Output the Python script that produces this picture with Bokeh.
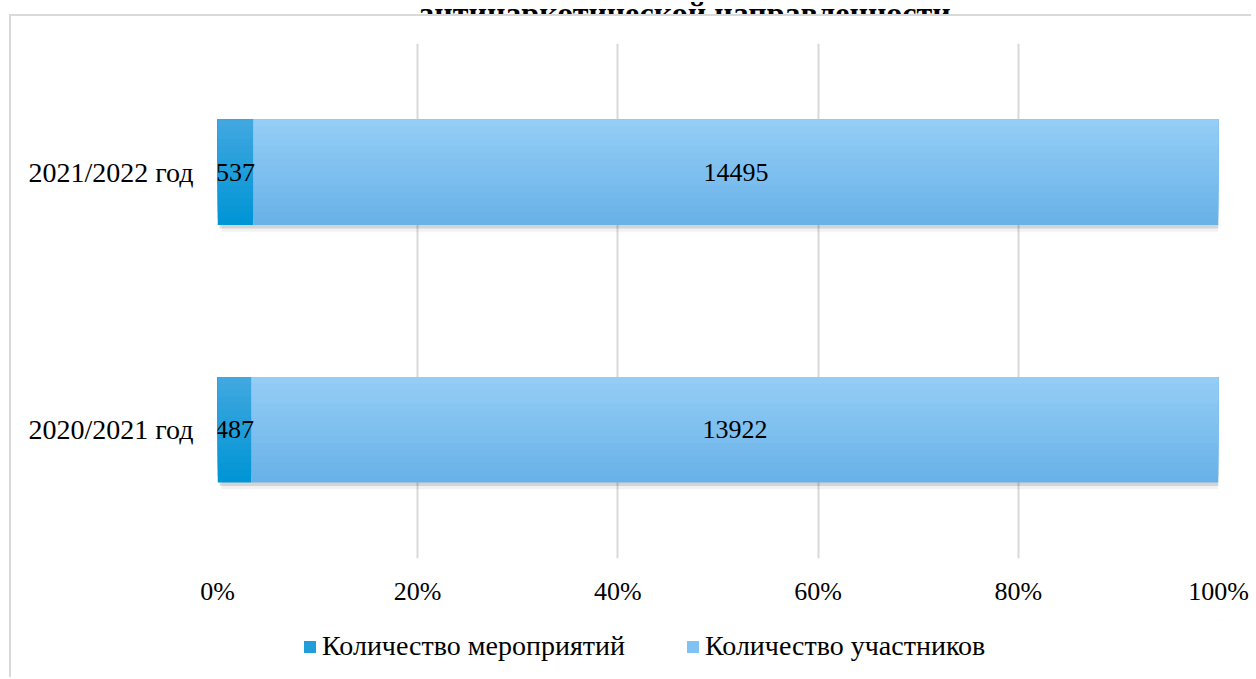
from bokeh.plotting import figure
from bokeh.layouts import column
from bokeh.models import (ColumnDataSource, FactorRange, Range1d, NumeralTickFormatter,
                          FixedTicker, Legend, LegendItem, Label)
from bokeh.transform import dodge
from bokeh.core.properties import value
from bokeh.embed import file_html
from bokeh.resources import INLINE

# ---- data ----
years = ["2020/2021 год", "2021/2022 год"]
events = [487, 537]
participants = [13922, 14495]
series_names = ["Количество мероприятий", "Количество участников"]
x_ticks = [0, 0.2, 0.4, 0.6, 0.8, 1.0]
title_text = "антинаркотической направленности"

FONT = "Liberation Serif"
DARK_TOP, DARK_BOT = (0x40, 0xa7, 0xe0), (0x00, 0x95, 0xd5)
LIGHT_TOP, LIGHT_BOT = (0x94, 0xcd, 0xf6), (0x68, 0xb2, 0xe8)
DARK = "#1f9eda"
LIGHT = "#80c3f3"
BORDER = "#d9d9d9"

totals = [e + q for e, q in zip(events, participants)]
ev_share = [e / t for e, t in zip(events, totals)]
src = ColumnDataSource(dict(
    year=years,
    zero=[0.0] * len(years),
    ev_end=ev_share,
    all_end=[1.0] * len(years),
    ev_mid=[s / 2 for s in ev_share],
    pa_mid=[(s + 1) / 2 for s in ev_share],
    ev_txt=[str(v) for v in events],
    pa_txt=[str(v) for v in participants],
))


def mix(a, b, t):
    return "#%02x%02x%02x" % tuple(round(a[i] + (b[i] - a[i]) * t) for i in range(3))


def bare(fig):
    fig.grid.visible = False
    fig.outline_line_color = None
    fig.background_fill_color = "white"
    fig.border_fill_color = "white"


# ---- title strip (only the bottom of the title shows above the chart) ----
tf = figure(width=1250, height=14, x_range=Range1d(0, 1), y_range=Range1d(0, 1),
            x_axis_location=None, y_axis_location=None,
            output_backend="svg", toolbar_location=None, min_border=0)
bare(tf)
tf.add_layout(Label(x=684, y=2, x_units="screen", y_units="screen", text=title_text,
                    text_align="center", text_baseline="alphabetic", text_font=FONT,
                    text_font_style="bold", text_font_size="32px", text_color="black"))

# ---- main chart ----
PW, PH = 1240, 604
p = figure(width=PW, height=PH, y_range=FactorRange(*years), x_range=Range1d(0, 1),
           output_backend="svg", toolbar_location=None,
           min_border_left=206, min_border_right=PW - 1207, min_border_top=27, min_border_bottom=62)
p.outline_line_color = None
p.background_fill_color = "white"
p.border_fill_color = "white"

BH = 0.41
# soft shadow under the bars
p.hbar(y=dodge("year", -0.026, range=p.y_range), left=dodge("zero", 0.004), right=dodge("all_end", 0.004),
       height=BH, source=src, fill_color="black", fill_alpha=0.05, line_color=None)
p.hbar(y=dodge("year", -0.013, range=p.y_range), left=dodge("zero", 0.002), right=dodge("all_end", 0.002),
       height=BH, source=src, fill_color="black", fill_alpha=0.12, line_color=None)

# bars with a vertical gradient (stacked bands, lighter towards the top)
N = 16
for k in range(N):
    h = BH * (N - k) / N
    off = (BH - h) / 2
    t = k / (N - 1)
    p.hbar(y=dodge("year", off, range=p.y_range), left="zero", right="ev_end", height=h,
           source=src, fill_color=mix(DARK_BOT, DARK_TOP, t), line_color=None)
    p.hbar(y=dodge("year", off, range=p.y_range), left="ev_end", right="all_end", height=h,
           source=src, fill_color=mix(LIGHT_BOT, LIGHT_TOP, t), line_color=None)

p.text(x="ev_mid", y="year", text="ev_txt", source=src, text_align="center",
       text_baseline="middle", text_font=value(FONT), text_font_size="26px", text_color="black")
p.text(x="pa_mid", y="year", text="pa_txt", source=src, text_align="center",
       text_baseline="middle", text_font=value(FONT), text_font_size="26px", text_color="black")

p.xaxis.ticker = FixedTicker(ticks=x_ticks)
p.xaxis.formatter = NumeralTickFormatter(format="0%")
for ax in (p.xaxis, p.yaxis):
    ax.axis_line_color = None
    ax.major_tick_line_color = None
    ax.minor_tick_line_color = None
    ax.major_label_text_font = FONT
    ax.major_label_text_color = "black"
p.xaxis.major_label_text_font_size = "26px"
p.yaxis.major_label_text_font_size = "28px"
p.xaxis.major_label_standoff = 12
p.yaxis.major_label_standoff = 18

p.xgrid.grid_line_color = BORDER
p.xgrid.grid_line_width = 2
p.ygrid.grid_line_color = None

# ---- legend strip ----
LH = 57
lf = figure(width=PW, height=LH, x_range=Range1d(0, 1), y_range=Range1d(0, 1),
            x_axis_location=None, y_axis_location=None,
            output_backend="svg", toolbar_location=None, min_border=0)
bare(lf)
offscreen = ColumnDataSource(dict(y=[5.0], left=[5.0], right=[6.0]))
d1 = lf.hbar(y="y", left="left", right="right", height=0.1, source=offscreen,
             fill_color=DARK, line_color=None)
d2 = lf.hbar(y="y", left="left", right="right", height=0.1, source=offscreen,
             fill_color=LIGHT, line_color=None)
legend = Legend(items=[LegendItem(label=series_names[0], renderers=[d1]),
                       LegendItem(label=series_names[1], renderers=[d2])],
                orientation="horizontal", location=(85, 15),
                glyph_width=15, glyph_height=15, label_standoff=5, spacing=60,
                padding=0, margin=0, border_line_color=None, background_fill_alpha=0,
                label_text_font=FONT, label_text_font_size="28px", label_text_color="black")
lf.add_layout(legend, "center")

body = column(p, lf, spacing=0,
              styles={"margin-left": "9px", "border-left": f"2px solid {BORDER}",
                      "border-top": f"2px solid {BORDER}", "overflow": "hidden",
                      "scrollbar-width": "none", "box-sizing": "content-box"})
root = column(tf, body, spacing=0, styles={"overflow": "hidden", "scrollbar-width": "none"})

open("out.html", "w").write(file_html(root, INLINE))
